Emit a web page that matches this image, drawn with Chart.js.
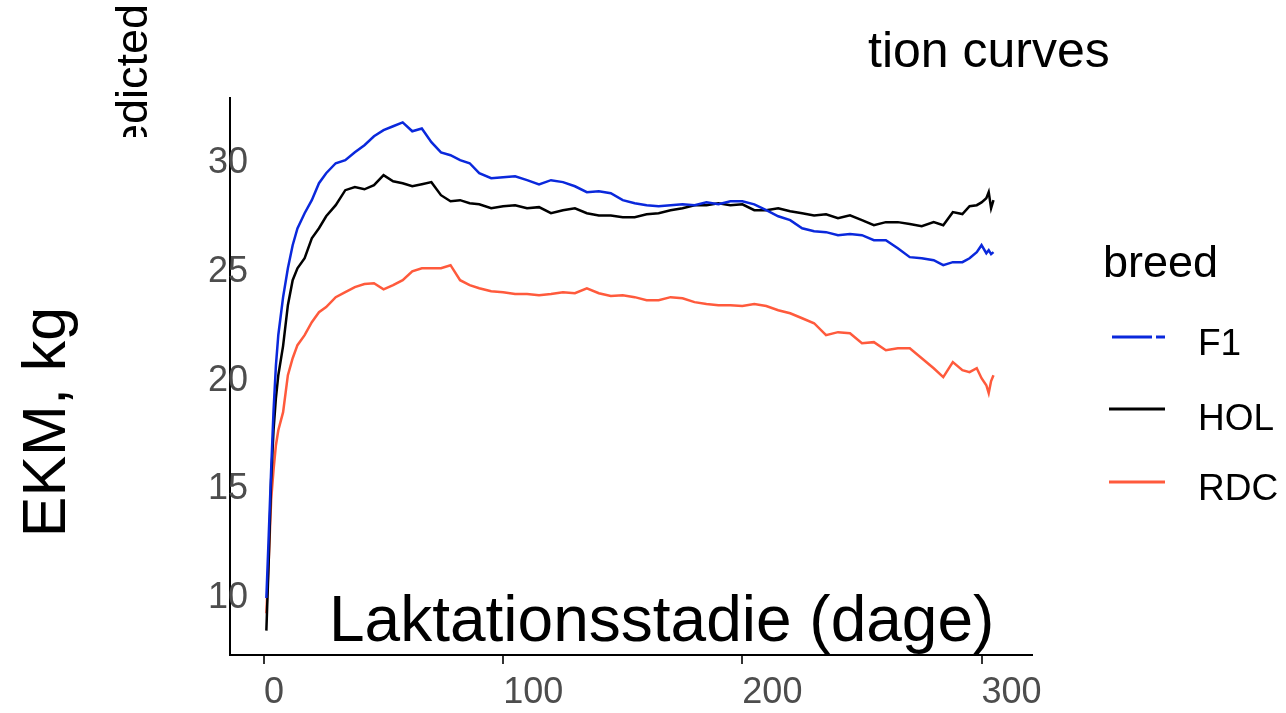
<!DOCTYPE html>
<html>
<head>
<meta charset="utf-8">
<script src="https://cdn.jsdelivr.net/npm/chart.js@4"></script>
<style>
  html, body { margin: 0; padding: 0; background: #ffffff; }
  #wrap { width: 1286px; height: 713px; position: relative; }
</style>
</head>
<body>
<div id="wrap"><canvas id="lactChart"></canvas></div>
<script>
// ----------------------------
// DATA
// ----------------------------
const days = [1, 2, 3, 4, 5, 6, 8, 10, 12, 14, 17, 20, 23, 26,
  30, 34, 38, 42, 46, 50, 54, 58, 62, 66, 70, 74, 78, 82, 86, 90,
  95, 100, 105, 110, 115, 120, 125, 130, 135, 140, 145, 150, 155, 160, 165, 170,
  175, 180, 185, 190, 195, 200, 205, 210, 215, 220, 225, 230, 235, 240, 245, 250,
  255, 260, 265, 270, 275, 280, 284, 288, 292, 295, 298, 300, 302, 303, 304, 305];

const ekmF1 = [10.0, 12.9, 15.9, 18.6, 20.7, 22.1, 23.84, 25.17, 26.23, 27.0, 27.7, 28.3, 29.08, 29.54,
  30.0, 30.14, 30.5, 30.83, 31.24, 31.52, 31.7, 31.88, 31.47, 31.6, 30.97, 30.5, 30.37, 30.14, 30.0, 29.54,
  29.31, 29.36, 29.4, 29.22, 29.03, 29.22, 29.13, 28.94, 28.67, 28.71, 28.62, 28.3, 28.16, 28.07, 28.02, 28.07,
  28.11, 28.07, 28.2, 28.11, 28.25, 28.25, 28.11, 27.84, 27.56, 27.38, 27.01, 26.87, 26.83, 26.69, 26.74, 26.69,
  26.46, 26.46, 26.09, 25.68, 25.63, 25.54, 25.31, 25.45, 25.45, 25.63, 25.91, 26.23, 25.86, 26.0, 25.82, 25.91];

const ekmHOL = [8.5, 11.75, 15.43, 17.72, 19.2, 20.25, 21.6, 23.47, 24.62, 25.17, 25.63, 26.55, 27.01, 27.56,
  28.07, 28.76, 28.9, 28.8, 28.99, 29.45, 29.17, 29.08, 28.94, 29.03, 29.13, 28.53, 28.25, 28.3, 28.16, 28.11,
  27.93, 28.02, 28.07, 27.93, 27.98, 27.7, 27.84, 27.93, 27.7, 27.6, 27.6, 27.52, 27.52, 27.65, 27.7, 27.84,
  27.93, 28.07, 28.07, 28.16, 28.07, 28.11, 27.84, 27.84, 27.93, 27.79, 27.7, 27.6, 27.65, 27.47, 27.6, 27.38,
  27.15, 27.29, 27.29, 27.2, 27.1, 27.29, 27.15, 27.75, 27.66, 28.02, 28.07, 28.2, 28.39, 28.67, 27.93, 28.3];

const ekmRDC = [9.3, 11.75, 14.5, 15.89, 17.03, 17.72, 18.55, 20.25, 21.03, 21.63, 22.09, 22.69, 23.15, 23.38,
  23.84, 24.07, 24.3, 24.44, 24.48, 24.2, 24.39, 24.62, 25.03, 25.17, 25.17, 25.17, 25.31, 24.62, 24.39, 24.25,
  24.11, 24.07, 23.98, 23.98, 23.93, 23.98, 24.07, 24.02, 24.25, 24.02, 23.89, 23.93, 23.84, 23.7, 23.7, 23.84,
  23.79, 23.61, 23.52, 23.47, 23.47, 23.43, 23.52, 23.43, 23.24, 23.1, 22.87, 22.64, 22.09, 22.23, 22.18, 21.72,
  21.77, 21.4, 21.49, 21.49, 21.03, 20.57, 20.16, 20.85, 20.48, 20.39, 20.57, 20.11, 19.79, 19.43, 19.98, 20.25];

const breeds = ["F1", "HOL", "RDC"];
const breedColors = ["#0a28dc", "#000000", "#ff5a3c"];
const xTicks = [0, 100, 200, 300];
const yTicks = [10, 15, 20, 25, 30];

const FONT = "'Liberation Sans', Arial, sans-serif";

// ----------------------------
// TEXT + LEGEND PLUGIN
// ----------------------------
const decorations = {
  id: "decorations",
  afterDraw(chart) {
    const ctx = chart.ctx;
    ctx.save();
    ctx.fillStyle = "#000000";
    ctx.textBaseline = "alphabetic";

    // title fragment
    ctx.font = "50px " + FONT;
    ctx.textAlign = "left";
    ctx.fillText("tion curves", 868, 67);

    // clipped vertical fragment
    ctx.save();
    ctx.beginPath();
    ctx.rect(0, 0, 300, 137);
    ctx.clip();
    ctx.translate(147, 4);
    ctx.rotate(-Math.PI / 2);
    ctx.font = "45px " + FONT;
    ctx.textAlign = "right";
    ctx.fillText("edicted", 0, 0);
    ctx.restore();

    // y axis title
    ctx.save();
    ctx.translate(65, 422);
    ctx.rotate(-Math.PI / 2);
    ctx.font = "61px " + FONT;
    ctx.textAlign = "center";
    ctx.fillText("EKM, kg", 0, 0);
    ctx.restore();

    // x axis title
    ctx.font = "64px " + FONT;
    ctx.textAlign = "left";
    ctx.fillText("Laktationsstadie (dage)", 329, 641);

    // legend
    ctx.font = "45px " + FONT;
    ctx.fillText("breed", 1103, 277);
    const keyY = [337, 409, 482];
    const textY = [355, 430, 500];
    ctx.font = "37px " + FONT;
    chart.data.datasets.forEach((ds, i) => {
      ctx.beginPath();
      ctx.strokeStyle = ds.borderColor;
      ctx.lineWidth = 3;
      ctx.setLineDash(i === 0 ? [40, 4] : []);
      ctx.moveTo(i === 0 ? 1112 : 1109, keyY[i]);
      ctx.lineTo(1165, keyY[i]);
      ctx.stroke();
      ctx.setLineDash([]);
      ctx.fillStyle = "#000000";
      ctx.fillText(ds.label, 1198, textY[i]);
    });
    ctx.restore();
  }
};

// ----------------------------
// CHART
// ----------------------------
const series = [ekmF1, ekmHOL, ekmRDC];

new Chart(document.getElementById("lactChart"), {
  type: "line",
  data: {
    datasets: breeds.map((b, i) => ({
      label: b,
      data: days.map((d, k) => ({ x: d, y: series[i][k] })),
      borderColor: breedColors[i],
      backgroundColor: breedColors[i],
      borderWidth: 2.5,
      pointRadius: 0,
      tension: 0,
      fill: false
    }))
  },
  options: {
    responsive: true,
    maintainAspectRatio: false,
    animation: false,
    layout: { padding: { top: 98, right: 254, left: 0, bottom: 0 } },
    plugins: {
      legend: { display: false },
      title: { display: false },
      tooltip: { enabled: false }
    },
    scales: {
      x: {
        type: "linear",
        min: -14.2,
        max: 321.1,
        afterBuildTicks: s => { s.ticks = xTicks.map(v => ({ value: v })); },
        afterFit: s => { s.height = 58; },
        ticks: {
          align: "start",
          padding: 7,
          color: "#4d4d4d",
          font: { family: FONT, size: 36 },
          maxRotation: 0
        },
        grid: {
          display: true,
          drawOnChartArea: false,
          drawTicks: true,
          tickLength: 9,
          color: "#333333",
          lineWidth: 2
        },
        border: { display: true, color: "#000000", width: 2 }
      },
      y: {
        min: 7.38,
        max: 33.0,
        afterBuildTicks: s => { s.ticks = yTicks.map(v => ({ value: v })); },
        afterFit: s => { s.width = 230; },
        ticks: {
          mirror: true,
          padding: -22,
          color: "#4d4d4d",
          font: { family: FONT, size: 36 }
        },
        grid: { display: false, drawTicks: false },
        border: { display: true, color: "#000000", width: 2 }
      }
    }
  },
  plugins: [decorations]
});
</script>
</body>
</html>
